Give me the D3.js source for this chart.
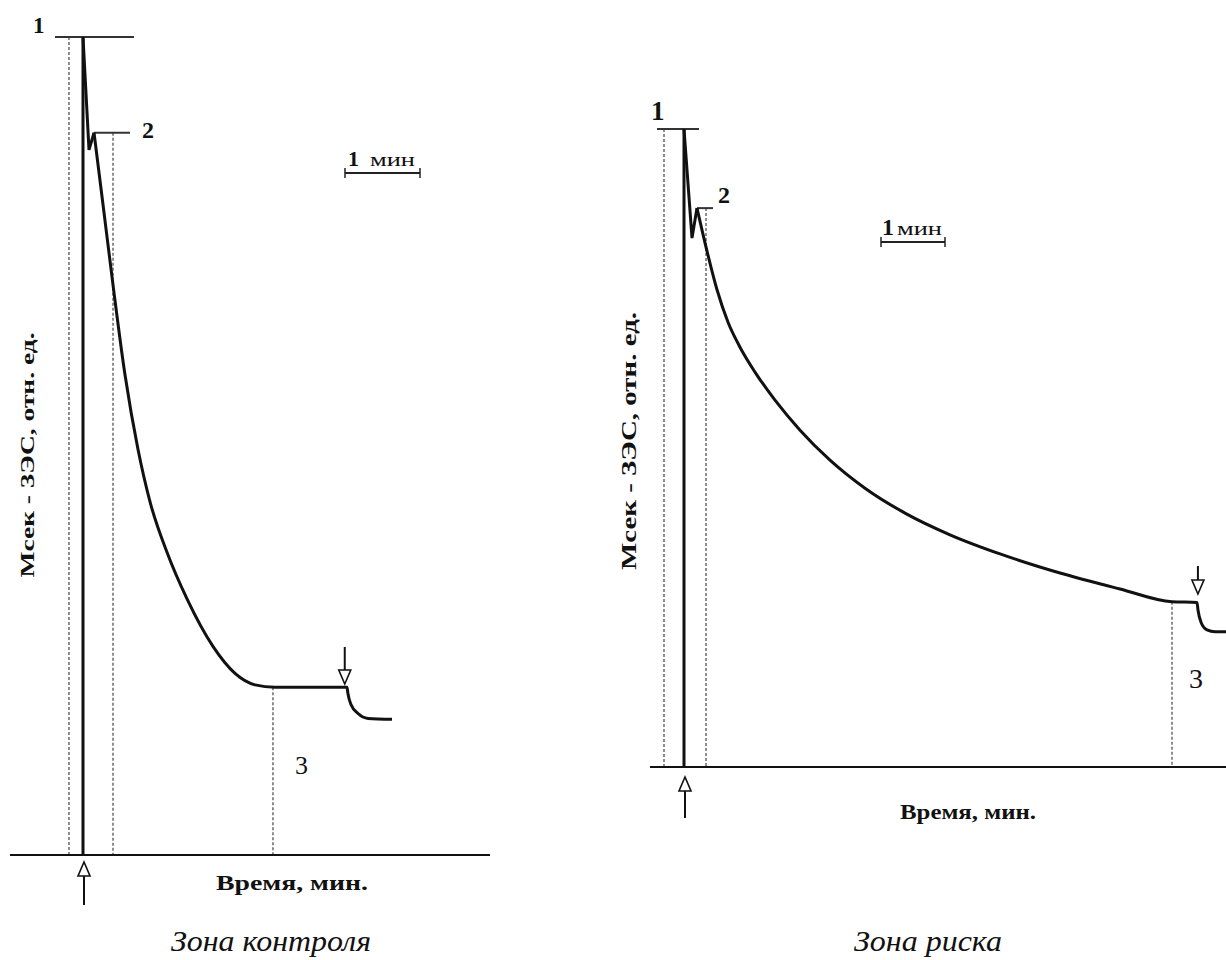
<!DOCTYPE html>
<html>
<head>
<meta charset="utf-8">
<script src="https://cdn.jsdelivr.net/npm/d3@7/dist/d3.min.js"></script>
<style>
  body { margin: 0; background: #fff; }
  svg { display: block; }
  text { font-family: "Liberation Serif", "DejaVu Serif", serif; fill: #111; }
</style>
</head>
<body>
<svg id="chart" width="1226" height="960"></svg>
<script>
(function() {

  'use strict';

  // Зона контроля: time in minutes from the stimulus, value in relative units (peak = 1)
  var controlTime = [0, 0.08, 0.147, 0.267, 0.4, 0.56, 0.733, 0.893, 1.12, 1.387, 1.733, 2.027, 2.293, 2.56, 3.52, 3.533, 3.573, 3.667, 3.8, 4.12];
  var controlValue = [1, 0.862, 0.883, 0.795, 0.697, 0.587, 0.496, 0.432, 0.370, 0.313, 0.255, 0.222, 0.208, 0.205, 0.205, 0.197, 0.184, 0.173, 0.167, 0.166];

  // Зона риска
  var riskTime = [0, 0.125, 0.203, 0.344, 0.516, 0.688, 0.875, 1.109, 1.422, 1.813, 2.281, 2.828, 3.453, 4.156, 4.938, 5.875, 6.813, 7.625, 8.016, 8.031, 8.078, 8.172, 8.297, 8.469];
  var riskValue = [1, 0.829, 0.876, 0.815, 0.748, 0.697, 0.658, 0.619, 0.575, 0.528, 0.481, 0.437, 0.398, 0.364, 0.334, 0.304, 0.279, 0.259, 0.258, 0.246, 0.227, 0.215, 0.212, 0.212];

  // dotted guides: [time, value where the guide starts]
  var controlGuides = [[-0.187, 1], [0.4, 0.883], [2.533, 0.205]];
  var riskGuides = [[-0.3125, 1], [0.344, 0.876], [7.625, 0.259]];

  // stimulus on / off markers (minutes)
  var controlStimulus = [0, 3.49];
  var riskStimulus = [0, 8.03];

  var xLabel = 'Время, мин.';
  var yLabel = 'Мсек - ЗЭС, отн. ед.';
  var scaleLabel = ['1', 'мин'];

  var panels = [
    {
      time: controlTime, value: controlValue, guides: controlGuides, stimulus: controlStimulus,
      caption: 'Зона контроля',
      x0: 83, minPx: 75, yBase: 855, yTop: 37,
      axisFrom: 10, axisTo: 490,
      top: { x1: 55, x2: 134, lx: 33, ly: 33, size: 23 },
      second: { x2: 130, lx: 142, ly: 138, size: 24 },
      third: { lx: 295, ly: 774, size: 26 },
      bar: { x: 345, y: 173, one: 22, dx: 3, mx: 25, len: 45 },
      upArrow: { tip: 862, tail: 905 },
      downArrow: { from: 647, tip: 684 },
      xLabel: { x: 292, y: 890, size: 21, len: 152 },
      yLabel: { x: 27, y: 455, size: 19, len: 245 },
      captionPos: { x: 271, y: 951, len: 200 }
    },
    {
      time: riskTime, value: riskValue, guides: riskGuides, stimulus: riskStimulus,
      caption: 'Зона риска',
      x0: 684, minPx: 64, yBase: 767, yTop: 129,
      axisFrom: 650, axisTo: 1226,
      top: { x1: 657, x2: 699, lx: 651, ly: 120, size: 27 },
      second: { x2: 713, lx: 718, ly: 203, size: 24 },
      third: { lx: 1189, ly: 688, size: 28 },
      bar: { x: 881, y: 242, one: 24, dx: 1, mx: 16, len: 45 },
      upArrow: { tip: 777, tail: 818 },
      downArrow: { from: 566, tip: 594 },
      xLabel: { x: 968, y: 819, size: 22, len: 136 },
      yLabel: { x: 629, y: 441, size: 20, len: 258 },
      captionPos: { x: 928, y: 951, len: 148 }
    }
  ];

  var svg = d3.select('#chart');

  var arrow = function(g, x, tip, tail) {
    var dir = tail > tip ? 1 : -1;
    var head = 14 * dir;
    g.append('line')
      .attr('x1', x).attr('x2', x)
      .attr('y1', tip + head).attr('y2', tail)
      .attr('stroke', '#111')
      .attr('stroke-width', 2);
    g.append('path')
      .attr('d', 'M' + x + ',' + tip + 'L' + (x - 6) + ',' + (tip + head) + 'L' + (x + 6) + ',' + (tip + head) + 'Z')
      .attr('fill', '#fff')
      .attr('stroke', '#111')
      .attr('stroke-width', 1.6);
  };

  panels.forEach(function(p) {
    var x = d3.scaleLinear().domain([0, 1]).range([p.x0, p.x0 + p.minPx]);
    var y = d3.scaleLinear().domain([0, 1]).range([p.yBase, p.yTop]);
    var g = svg.append('g');

    // dotted guides
    g.selectAll('line.guide')
      .data(p.guides)
      .enter()
      .append('line')
      .classed('guide', true)
      .attr('x1', function(d) { return x(d[0]); })
      .attr('x2', function(d) { return x(d[0]); })
      .attr('y1', function(d) { return y(d[1]); })
      .attr('y2', y(0))
      .attr('stroke', '#333')
      .attr('stroke-width', 1.1)
      .attr('stroke-dasharray', '3,2');

    // time axis
    g.append('line')
      .attr('x1', p.axisFrom).attr('x2', p.axisTo)
      .attr('y1', y(0)).attr('y2', y(0))
      .attr('stroke', '#111')
      .attr('stroke-width', 2);

    // stimulus line
    g.append('line')
      .attr('x1', x(0)).attr('x2', x(0))
      .attr('y1', y(1)).attr('y2', y(0))
      .attr('stroke', '#111')
      .attr('stroke-width', 3);

    // level 1 and level 2 markers
    var peak2 = p.value[2];
    g.append('line')
      .attr('x1', p.top.x1).attr('x2', p.top.x2)
      .attr('y1', y(1)).attr('y2', y(1))
      .attr('stroke', '#333')
      .attr('stroke-width', 2);
    g.append('line')
      .attr('x1', x(p.time[2])).attr('x2', p.second.x2)
      .attr('y1', y(peak2)).attr('y2', y(peak2))
      .attr('stroke', '#333')
      .attr('stroke-width', 2);

    // curve: sharp spike first, then a smooth decay
    var pts = p.value.map(function(v, i) { return [p.time[i], v]; });

    var spike = d3.line()
      .x(function(d) { return x(d[0]); })
      .y(function(d) { return y(d[1]); });

    var decay = d3.line()
      .x(function(d) { return x(d[0]); })
      .y(function(d) { return y(d[1]); })
      .curve(d3.curveMonotoneX);

    g.append('path')
      .attr('d', spike(pts.slice(0, 3)))
      .attr('fill', 'none')
      .attr('stroke', '#111')
      .attr('stroke-width', 3)
      .attr('stroke-linejoin', 'miter');

    g.append('path')
      .attr('d', decay(pts.slice(2)))
      .attr('fill', 'none')
      .attr('stroke', '#111')
      .attr('stroke-width', 3)
      .attr('stroke-linejoin', 'round');

    // numbered labels
    g.append('text').attr('x', p.top.lx).attr('y', p.top.ly)
      .style('font-size', p.top.size + 'px').style('font-weight', 'bold').text('1');
    g.append('text').attr('x', p.second.lx).attr('y', p.second.ly)
      .style('font-size', p.second.size + 'px').style('font-weight', 'bold').text('2');
    g.append('text').attr('x', p.third.lx).attr('y', p.third.ly)
      .style('font-size', p.third.size + 'px').text('3');

    // 1 min scale bar
    var bar = g.append('g').attr('transform', 'translate(' + p.bar.x + ',' + p.bar.y + ')');
    bar.append('line').attr('x1', 0).attr('x2', p.minPx).attr('y1', 0).attr('y2', 0)
      .attr('stroke', '#222').attr('stroke-width', 2);
    bar.selectAll('line.end')
      .data([0, p.minPx])
      .enter()
      .append('line')
      .classed('end', true)
      .attr('x1', function(d) { return d; })
      .attr('x2', function(d) { return d; })
      .attr('y1', -5).attr('y2', 5)
      .attr('stroke', '#222').attr('stroke-width', 1.5);
    bar.append('text').attr('x', p.bar.dx).attr('y', -7)
      .style('font-size', p.bar.one + 'px').style('font-weight', 'bold').text(scaleLabel[0]);
    bar.append('text').attr('x', p.bar.mx).attr('y', -7)
      .attr('textLength', p.bar.len)
      .attr('lengthAdjust', 'spacingAndGlyphs')
      .style('font-size', '18px').text(scaleLabel[1]);

    // stimulus arrows
    arrow(g, x(p.stimulus[0]) + 1, p.upArrow.tip, p.upArrow.tail);
    arrow(g, x(p.stimulus[1]), p.downArrow.tip, p.downArrow.from);

    // axis titles
    g.append('text')
      .attr('x', p.xLabel.x).attr('y', p.xLabel.y)
      .attr('text-anchor', 'middle')
      .attr('textLength', p.xLabel.len)
      .attr('lengthAdjust', 'spacingAndGlyphs')
      .style('font-size', p.xLabel.size + 'px')
      .style('font-weight', 'bold')
      .text(xLabel);

    g.append('text')
      .attr('transform', 'translate(' + p.yLabel.x + ',' + p.yLabel.y + ') rotate(-90)')
      .attr('text-anchor', 'middle')
      .attr('dominant-baseline', 'central')
      .attr('textLength', p.yLabel.len)
      .attr('lengthAdjust', 'spacingAndGlyphs')
      .style('font-size', p.yLabel.size + 'px')
      .style('font-weight', 'bold')
      .text(yLabel);

    // caption
    g.append('text')
      .attr('x', p.captionPos.x).attr('y', p.captionPos.y)
      .attr('text-anchor', 'middle')
      .attr('textLength', p.captionPos.len)
      .attr('lengthAdjust', 'spacingAndGlyphs')
      .style('font-size', '30px')
      .style('font-style', 'italic')
      .text(p.caption);
  });

})();
</script>
</body>
</html>
